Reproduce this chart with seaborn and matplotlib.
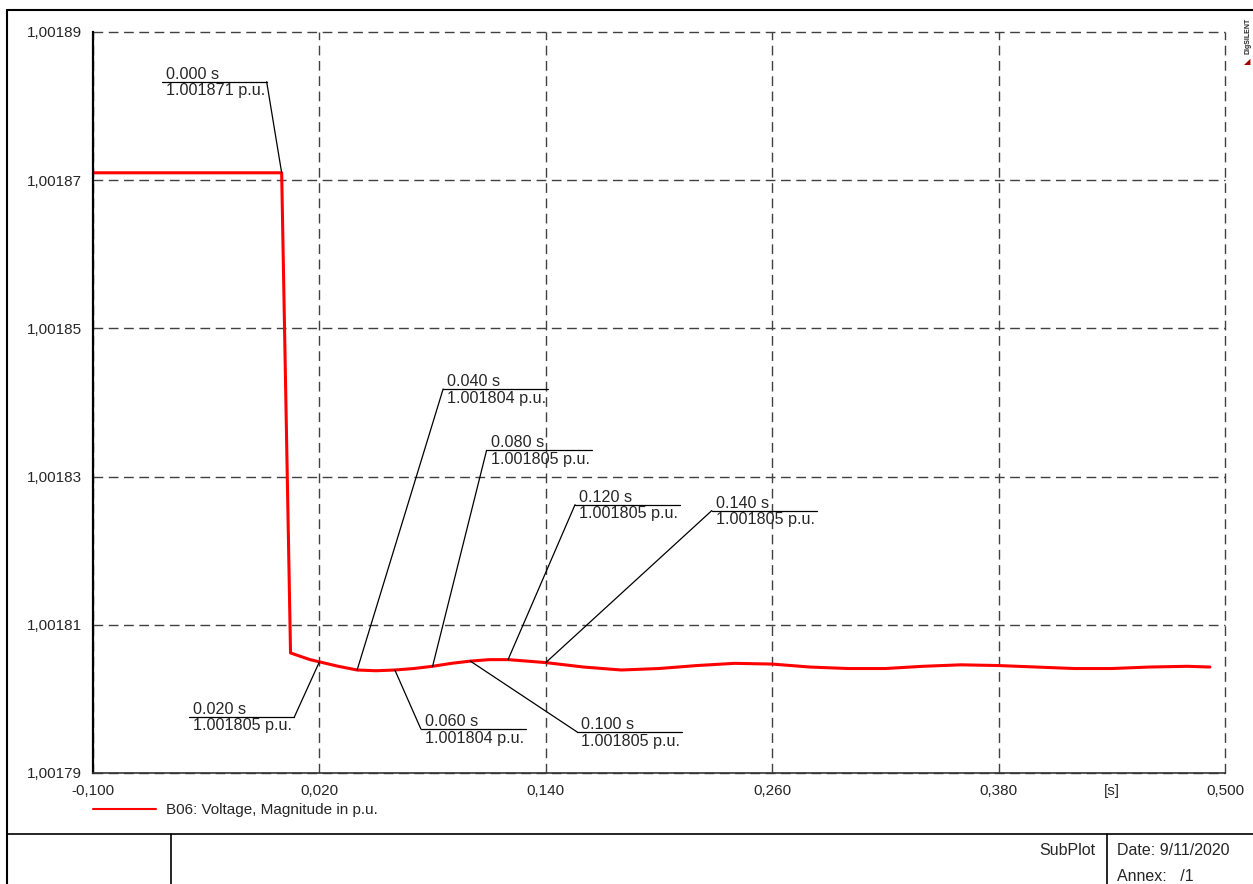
import numpy as np
import pandas as pd
import seaborn as sns
import matplotlib.pyplot as plt
from matplotlib.lines import Line2D
from matplotlib.ticker import FixedLocator, FuncFormatter
from matplotlib.transforms import IdentityTransform

# Data (time in s, voltage in p.u.)
time = [-0.100, 0.000, 0.0047, 0.015, 0.020, 0.030, 0.040, 0.050, 0.060, 0.070,
        0.080, 0.090, 0.100, 0.110, 0.120, 0.130, 0.140, 0.160, 0.180, 0.200,
        0.220, 0.240, 0.260, 0.280, 0.300, 0.320, 0.340, 0.360, 0.380, 0.400,
        0.420, 0.440, 0.460, 0.480, 0.492]
volt = [1.0018710, 1.0018710, 1.0018062, 1.0018053, 1.0018050, 1.0018044, 1.0018039,
        1.0018038, 1.0018039, 1.0018041, 1.0018044, 1.0018048, 1.0018051, 1.0018053,
        1.0018053, 1.0018051, 1.0018049, 1.0018043, 1.0018039, 1.0018041, 1.0018045,
        1.0018048, 1.0018047, 1.0018043, 1.0018041, 1.0018041, 1.0018044, 1.0018046,
        1.0018045, 1.0018043, 1.0018041, 1.0018041, 1.0018043, 1.0018044, 1.0018043]

# Callouts: time, label value, pixel offset of the line anchor, anchor side
mark_t = [0.000, 0.020, 0.040, 0.060, 0.080, 0.100, 0.120, 0.140]
mark_v = ["1.001871", "1.001805", "1.001804", "1.001804",
          "1.001805", "1.001805", "1.001805", "1.001805"]
mark_dx = [-15, -25, 86, 26, 54, 107, 67, 166]
mark_dy = [-91, 55, -281, 59, -216, 71, -155, -152]
mark_side = ["right", "right", "left", "left", "left", "left", "left", "left"]

xticks = [-0.100, 0.020, 0.140, 0.260, 0.380, 0.500]
yticks = [1.00179, 1.00181, 1.00183, 1.00185, 1.00187, 1.00189]

sns.set_style("white")
plt.rcParams["font.family"] = ["Liberation Sans", "DejaVu Sans"]

W, H = 1253, 884
fig = plt.figure(figsize=(W / 100, H / 100), dpi=100)
ax = fig.add_axes([93 / W, (H - 773) / H, (1225 - 93) / W, (773 - 32) / H])

df = pd.DataFrame({"t": time, "u": volt})
sns.lineplot(data=df, x="t", y="u", color="red", lw=2.2, estimator=None, sort=False,
             ax=ax, label="B06: Voltage, Magnitude in p.u.")

ax.set_xlim(-0.1, 0.5)
ax.set_ylim(1.00179, 1.00189)
ax.xaxis.set_major_locator(FixedLocator(xticks))
ax.yaxis.set_major_locator(FixedLocator(yticks))
ax.xaxis.set_minor_locator(FixedLocator([x + 0.06 for x in xticks[:-1]]))
ax.yaxis.set_minor_locator(FixedLocator([y + 0.00001 for y in yticks[:-1]]))
ax.xaxis.set_major_formatter(FuncFormatter(lambda v, p: f"{v:.3f}".replace(".", ",")))
ax.yaxis.set_major_formatter(FuncFormatter(lambda v, p: f"{v:.5f}".replace(".", ",")))
ax.tick_params(which="both", direction="in", labelsize=11, color="black")
ax.tick_params(which="major", length=5, width=1)
ax.tick_params(which="minor", length=4, width=1)
ax.tick_params(axis="x", pad=8)
ax.tick_params(axis="y", pad=8)
ax.set_xlabel("")
ax.set_ylabel("")
ax.grid(True, which="major", color="0.25", lw=1, linestyle=(0, (7, 4)))
for gl in ax.get_xgridlines() + ax.get_ygridlines():
    gl.set_clip_on(False)
for s in ["top", "right"]:
    ax.spines[s].set_visible(False)
ax.spines["left"].set_color("black")
ax.spines["left"].set_linewidth(1.6)
ax.spines["bottom"].set_color("0.2")
ax.spines["bottom"].set_linewidth(1.2)

ax.annotate("[s]", xy=(0.44, 0), xycoords=("data", "axes fraction"),
            xytext=(0, -11), textcoords="offset pixels", ha="center", va="top",
            fontsize=11)

# legend below the axes
ax.get_legend().remove()
fig.legend(handles=[Line2D([], [], color="red", lw=1.5)],
           labels=["B06: Voltage, Magnitude in p.u."],
           loc="center left", bbox_to_anchor=(93 / W, (H - 810) / H),
           frameon=False, fontsize=11, handlelength=4.1, handletextpad=0.65,
           borderpad=0, borderaxespad=0)

# callouts in pixel space
ident = IdentityTransform()
for t, v, dx, dy, side in zip(mark_t, mark_v, mark_dx, mark_dy, mark_side):
    px, py = ax.transData.transform((t, np.interp(t, time, volt)))
    axp, ayp = px + dx, py - dy
    lx0 = axp if side == "left" else axp - 105
    fig.add_artist(Line2D([px, axp], [py, ayp], color="black", lw=0.9, transform=ident))
    fig.add_artist(Line2D([lx0, lx0 + 105], [ayp, ayp], color="black", lw=0.9,
                          transform=ident))
    fig.text(lx0 + 4, ayp + 3, f"{t:.3f} s", fontsize=11.6, va="baseline", transform=ident)
    fig.text(lx0 + 4, ayp - 13.5, f"{v} p.u.", fontsize=11.6, va="baseline", transform=ident)

# page frame and title block
def hline(x0, x1, y, lw=1.2):
    fig.add_artist(Line2D([x0, x1], [H - y, H - y], color="black", lw=lw, transform=ident))

def vline(x, y0, y1, lw=1.2):
    fig.add_artist(Line2D([x, x], [H - y0, H - y1], color="black", lw=lw, transform=ident))

hline(7, W, 10, 1.5)
vline(7, 10, H, 1.5)
hline(7, W, 834)
vline(171, 834, H)
vline(1107, 834, H)
fig.text(1095, H - 855, "SubPlot", ha="right", va="baseline", fontsize=11.5, transform=ident)
fig.text(1117, H - 855, "Date: 9/11/2020", ha="left", va="baseline", fontsize=11.5,
         transform=ident)
fig.text(1117, H - 881, "Annex:   /1", ha="left", va="baseline", fontsize=11.5,
         transform=ident)
fig.text(1248, H - 36, "DIgSILENT", rotation=90, ha="center", va="center", fontsize=5,
         fontweight="bold", transform=ident)
fig.text(1247, H - 62, "\u25e2", ha="center", va="center", fontsize=6, color="#a00000",
         family=["DejaVu Sans"], transform=ident)

fig.savefig("out.png", dpi=100)
